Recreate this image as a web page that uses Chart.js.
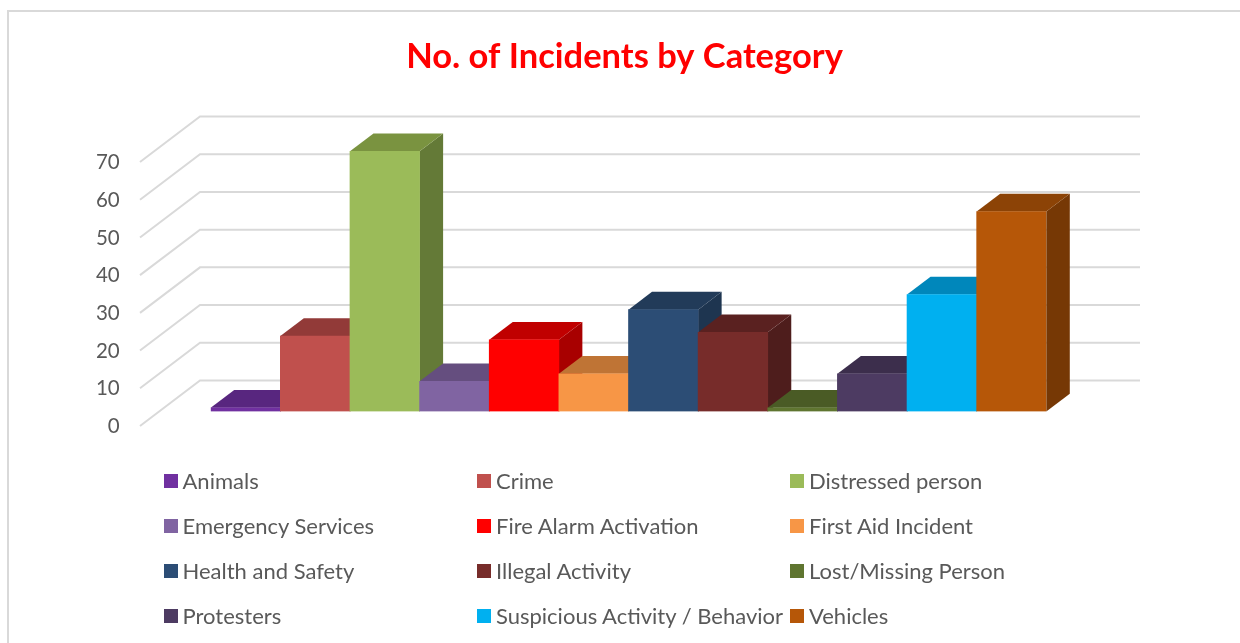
<!DOCTYPE html>
<html>
<head>
<meta charset="utf-8">
<title>No. of Incidents by Category</title>
<script src="https://cdn.jsdelivr.net/npm/chart.js@4"></script>
<style>
    body { margin: 0; background: #fff; overflow: hidden; }
    #wrap { position: relative; width: 1240px; height: 643px; }
    #frame { position: absolute; left: 7px; top: 10px; right: 0; bottom: 0; border-top: 2px solid #d9d9d9; border-left: 2px solid #d9d9d9; }
    #myChart { position: absolute; left: 0; top: 0; }
    #legend { position: absolute; left: 0; top: 0; font-family: Lato, sans-serif; font-size: 22px; color: #595959; }
    .legend-item { position: absolute; white-space: nowrap; line-height: 26px; height: 26px; }
    .legend-item i { position: absolute; left: 0; top: 6px; width: 14px; height: 14px; }
    .legend-item span { position: absolute; left: 19px; }
</style>
</head>
<body>
<div id="wrap">
    <div id="frame"></div>
    <canvas id="myChart" width="1240" height="643"></canvas>
    <div id="legend"></div>
</div>
<script>
const categories = ['Animals', 'Crime', 'Distressed person', 'Emergency Services', 'Fire Alarm Activation', 'First Aid Incident',
    'Health and Safety', 'Illegal Activity', 'Lost/Missing Person', 'Protesters', 'Suspicious Activity / Behavior', 'Vehicles'];
const incidents = [1, 20, 69, 8, 19, 10, 27, 21, 1, 10, 31, 53];
const barColors = ['#7030a0', '#c0504d', '#9bbb59', '#8064a2', '#ff0000', '#f79646',
    '#2c4d75', '#772c2a', '#5f7530', '#4d3b62', '#00b0f0', '#b65708'];
const topColors = ['#58267f', '#923a38', '#7a9340', '#654e7f', '#c00000', '#bf7435',
    '#223b59', '#5a2120', '#4a5b25', '#3c2e4c', '#0087bb', '#8c4306'];
const sideColors = ['#4c2170', '#7f3230', '#647a37', '#53416a', '#a80000', '#a5632e',
    '#1e3550', '#4e1d1c', '#3f4e20', '#332741', '#0074a0', '#763805'];
const yMax = 70;
const yStep = 10;

// bar box depth and wall depth in px, this is the fake 3d part
const barDepth = { x: 23.5, y: 17.8 };
const wall = { front: 140, back: 200, right: 1140, drop: 14.5, rise: 45.5 };

const fake3d = {
    id: 'fake3d',
    beforeDatasetsDraw(chart) {
        const ctx = chart.ctx;
        const yScale = chart.scales.y;

        ctx.save();
        ctx.strokeStyle = '#d9d9d9';
        ctx.lineWidth = 2;
        for (let v = 0; v <= yMax; v += yStep) {
            const y = yScale.getPixelForValue(v) + wall.drop;
            ctx.beginPath();
            ctx.moveTo(wall.front, y);
            ctx.lineTo(wall.back, y - wall.rise);
            ctx.lineTo(wall.right, y - wall.rise);
            ctx.stroke();
        }

        chart.getDatasetMeta(0).data.forEach(function (bar, i) {
            const left = bar.x - bar.width / 2;
            const right = bar.x + bar.width / 2;
            const top = bar.y;
            const base = bar.base;

            ctx.fillStyle = sideColors[i];
            ctx.beginPath();
            ctx.moveTo(right, top);
            ctx.lineTo(right + barDepth.x, top - barDepth.y);
            ctx.lineTo(right + barDepth.x, base - barDepth.y);
            ctx.lineTo(right, base);
            ctx.closePath();
            ctx.fill();

            ctx.fillStyle = topColors[i];
            ctx.beginPath();
            ctx.moveTo(left, top);
            ctx.lineTo(left + barDepth.x, top - barDepth.y);
            ctx.lineTo(right + barDepth.x, top - barDepth.y);
            ctx.lineTo(right, top);
            ctx.closePath();
            ctx.fill();
        });
        ctx.restore();
    }
};

function buildLegend() {
    const box = document.getElementById('legend');
    const columns = [163.5, 477, 790];
    categories.forEach(function (name, i) {
        const item = document.createElement('div');
        item.className = 'legend-item';
        item.style.left = columns[i % 3] + 'px';
        item.style.top = (468 + Math.floor(i / 3) * 45) + 'px';
        item.innerHTML = '<i style="background:' + barColors[i] + '"></i><span>' + name + '</span>';
        box.appendChild(item);
    });
}

const ctx = document.getElementById('myChart').getContext('2d');
const myChart = new Chart(ctx, {
    type: 'bar',
    data: {
        labels: categories,
        datasets: [{
            label: 'No. of Incidents',
            data: incidents,
            backgroundColor: barColors,
            barPercentage: 1,
            categoryPercentage: 1
        }]
    },
    plugins: [fake3d],
    options: {
        responsive: false,
        animation: false,
        layout: { padding: { left: 9, bottom: 231.5 } },
        plugins: {
            legend: { display: false },
            tooltip: { enabled: false },
            title: {
                display: true,
                text: 'No. of Incidents by Category',
                color: '#ff0000',
                font: { family: 'Lato', size: 34.5, weight: 'bold', lineHeight: 1.2 },
                padding: { top: 36.5, bottom: 69.6 }
            }
        },
        scales: {
            x: { display: false },
            y: {
                min: 0,
                max: yMax,
                grid: { display: false, drawTicks: false },
                border: { display: false },
                ticks: {
                    stepSize: yStep,
                    padding: 91,
                    labelOffset: 15,
                    color: '#595959',
                    font: { family: 'Lato', size: 20.5 }
                },
                afterFit(scale) { scale.width = 201.7; }
            },
            spare: {
                position: 'right',
                min: 0,
                max: yMax,
                grid: { display: false, drawTicks: false },
                border: { display: false },
                ticks: { display: false },
                afterFit(scale) { scale.width = 193.7; }
            }
        }
    }
});

buildLegend();
</script>
</body>
</html>
